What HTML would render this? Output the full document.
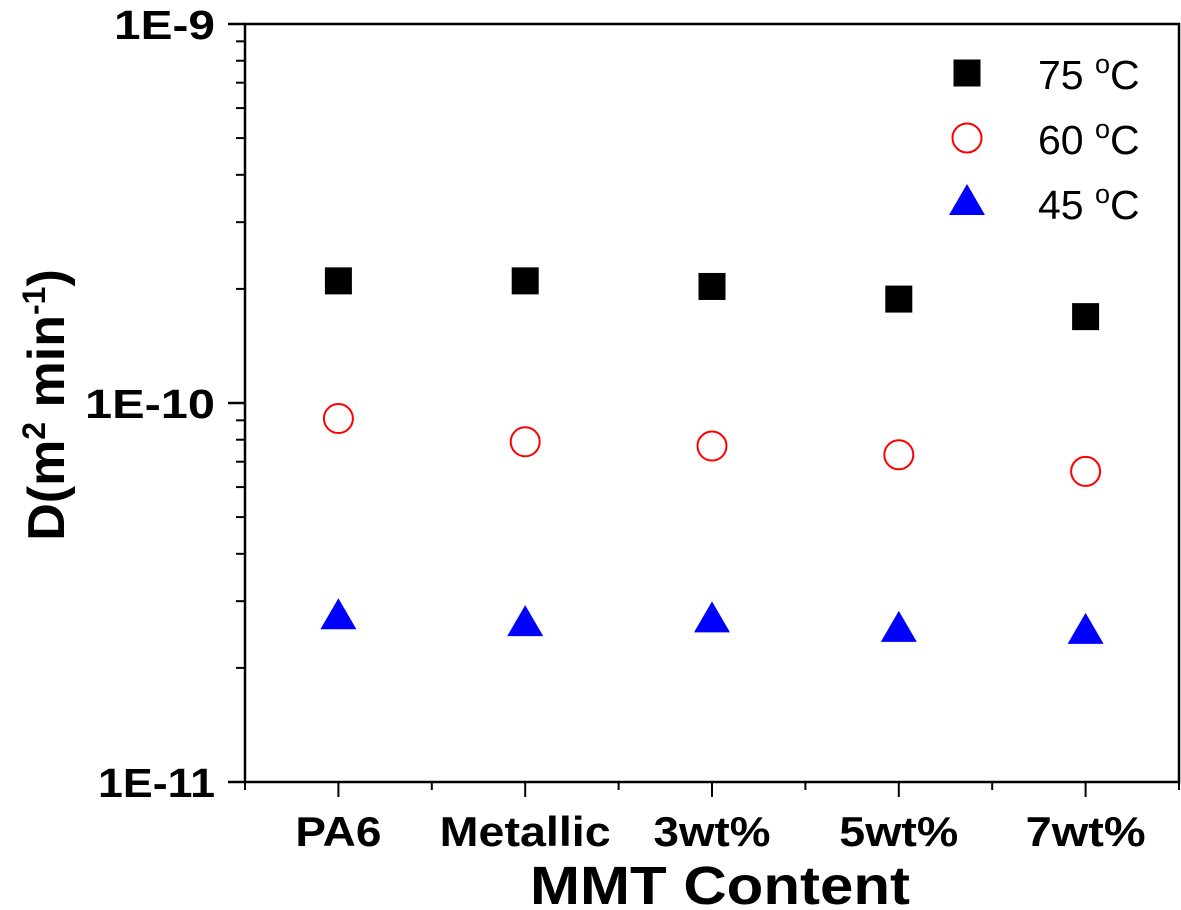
<!DOCTYPE html>
<html><head><meta charset="utf-8"><style>
html,body{margin:0;padding:0;background:#fff;}
svg{display:block;font-family:"Liberation Sans",sans-serif;}
</style></head><body>
<svg id="chart" width="1181" height="910" viewBox="0 0 1181 910"></svg>
<script>
const categories = ["PA6","Metallic","3wt%","5wt%","7wt%"];
const series75 = [2.1e-10, 2.1e-10, 2.03e-10, 1.88e-10, 1.69e-10];
const series60 = [9.1e-11, 7.9e-11, 7.7e-11, 7.3e-11, 6.6e-11];
const series45 = [2.72e-11, 2.61e-11, 2.67e-11, 2.52e-11, 2.49e-11];
const yTickLabels = ["1E-9","1E-10","1E-11"];
const yTickExps = [-9,-10,-11];

const NS="http://www.w3.org/2000/svg";
const svg=document.getElementById('chart');
const L=245,R=1179,T=24,B=782;
function xPos(i){return L+(R-L)*(i+0.5)/categories.length;}
function yPos(v){return T+(-9-Math.log10(v))/2*(B-T);}
function mk(tag,attrs,parent){const e=document.createElementNS(NS,tag);for(const k in attrs)e.setAttribute(k,attrs[k]);(parent||svg).appendChild(e);return e;}
function fit(el){ // scale text to target width measured from reference
  const w={"1E-9":101,"1E-10":130,"1E-11":117,"PA6":86,"Metallic":171,"3wt%":117,"5wt%":119,"7wt%":120}[el.textContent];
  if(w){el.setAttribute('textLength',w);el.setAttribute('lengthAdjust','spacingAndGlyphs');}
}

const frame=mk('rect',{x:L,y:T,width:R-L,height:B-T,fill:'none',stroke:'#000','stroke-width':2.5});



yTickExps.forEach((e,i)=>{
  const y=yPos(Math.pow(10,e));
  const t=mk('line',{x1:228,x2:L,y1:y,y2:y,stroke:'#000','stroke-width':2.5});
  
  
  const lb=mk('text',{x:215,y:y+15,'text-anchor':'end','font-size':41,'font-weight':'bold',fill:'#000'});
  lb.textContent=yTickLabels[i];
  fit(lb);
  
  
  if(e>-11){for(let m=2;m<=9;m++){
    const ym=yPos(m*Math.pow(10,e-1));
    const mt=mk('line',{x1:236,x2:L,y1:ym,y2:ym,stroke:'#000','stroke-width':2});
    
    
  }}
});
categories.forEach((c,i)=>{
  const x=xPos(i);
  const t=mk('line',{x1:x,x2:x,y1:B,y2:797,stroke:'#000','stroke-width':2});
  
  
  const lb=mk('text',{x:x,y:846,'text-anchor':'middle','font-size':42,'font-weight':'bold',fill:'#000'});
  lb.textContent=c;
  fit(lb);
  
  
});
for(let i=0;i<=categories.length;i++){
  const x=L+(R-L)*i/categories.length;
  const t=mk('line',{x1:x,x2:x,y1:B,y2:790,stroke:'#000','stroke-width':2});
  
  
}
const xt=mk('text',{x:720,y:904,'text-anchor':'middle','font-size':54,'font-weight':'bold',fill:'#000',textLength:380,lengthAdjust:'spacingAndGlyphs'});
xt.textContent='MMT Content';


const yt=mk('text',{x:0,y:0,'text-anchor':'middle','font-size':52,'font-weight':'bold',fill:'#000',transform:'translate(64,405) rotate(-90)'});
yt.innerHTML='D(m<tspan dy="-19" font-size="32">2</tspan><tspan dy="19"> min</tspan><tspan dy="-19" font-size="32">-1</tspan><tspan dy="19">)</tspan>';



function square(x,y,g){const e=mk('rect',{x:x-13.5,y:y-13.5,width:27,height:27,fill:'#000'},g);}
function circle(x,y,g){const e=mk('circle',{cx:x,cy:y,r:14.5,fill:'none',stroke:'#f00','stroke-width':2},g);}
function tri(x,y,g){const e=mk('polygon',{points:`${x},${y-19} ${x-18},${y+12} ${x+18},${y+12}`,fill:'#00f'},g);}

categories.forEach((c,i)=>{
  square(xPos(i),yPos(series75[i]));
  circle(xPos(i),yPos(series60[i]));
  tri(xPos(i),yPos(series45[i]));
});

const leg=mk('g',{});


const entries=[[square,'75',73],[circle,'60',138],[tri,'45',203]];
entries.forEach(([f,t,y])=>{
  f(967,y,leg);
  const tx=mk('text',{x:1038,y:y+16,'font-size':41,fill:'#000'},leg);
  tx.innerHTML=t+' <tspan dy="-16" font-size="27">o</tspan><tspan dy="16">C</tspan>';
  
  
});
</script>
</body></html>
